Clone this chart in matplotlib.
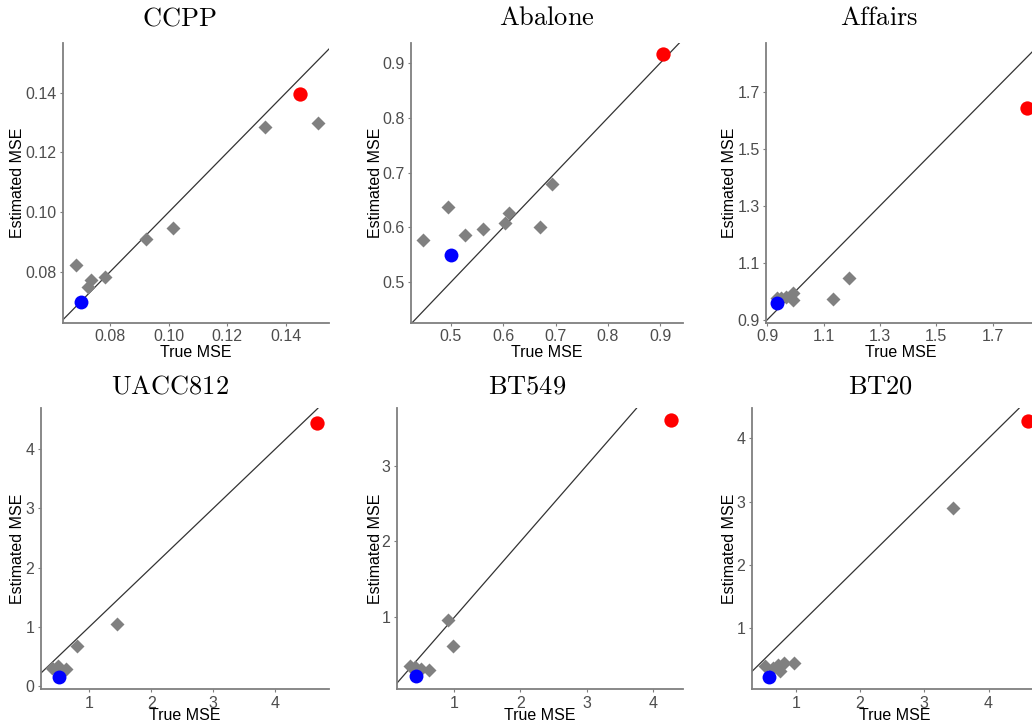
import matplotlib
matplotlib.use("Agg")
import matplotlib.pyplot as plt
from matplotlib.ticker import FormatStrFormatter

plt.rcParams["mathtext.fontset"] = "cm"
plt.rcParams["font.family"] = ["Liberation Sans", "DejaVu Sans"]

# ---------------- data ----------------
titles = ["CCPP", "Abalone", "Affairs", "UACC812", "BT549", "BT20"]

ccpp_true = [0.0684, 0.0726, 0.0737, 0.0783, 0.0923, 0.1014, 0.1327, 0.1508]
ccpp_est = [0.0824, 0.0749, 0.0774, 0.0783, 0.0910, 0.0949, 0.1286, 0.1297]
ccpp_blue = [0.0701, 0.0699]
ccpp_red = [0.1449, 0.1394]

abalone_true = [0.4467, 0.4943, 0.5273, 0.561, 0.6035, 0.612, 0.670, 0.6937]
abalone_est = [0.5776, 0.638, 0.5867, 0.597, 0.609, 0.626, 0.600, 0.679]
abalone_blue = [0.500, 0.549]
abalone_red = [0.905, 0.9158]

affairs_true = [0.935, 0.950, 0.965, 0.990, 0.990, 1.132, 1.191]
affairs_est = [0.975, 0.975, 0.980, 0.995, 0.970, 0.972, 1.046]
affairs_blue = [0.9355, 0.958]
affairs_red = [1.8207, 1.645]

uacc_true = [0.40, 0.50, 0.62, 0.55, 0.795, 1.44]
uacc_est = [0.30, 0.33, 0.28, 0.26, 0.676, 1.048]
uacc_blue = [0.515, 0.158]
uacc_red = [4.673, 4.45]

bt549_true = [0.33, 0.40, 0.50, 0.62, 0.909, 0.985]
bt549_est = [0.36, 0.34, 0.32, 0.31, 0.965, 0.626]
bt549_blue = [0.42, 0.226]
bt549_red = [4.277, 3.602]

bt20_true = [0.52, 0.65, 0.72, 0.75, 0.82, 0.98, 3.451]
bt20_est = [0.40, 0.37, 0.42, 0.32, 0.45, 0.46, 2.895]
bt20_blue = [0.585, 0.237]
bt20_red = [4.607, 4.279]

xlims = [(0.0641, 0.1546), (0.4238, 0.943), (0.895, 1.854),
         (0.214, 4.878), (0.128, 4.464), (0.315, 4.78)]
ylims = [(0.0630, 0.1566), (0.426, 0.936), (0.888, 1.8717),
         (-0.056, 4.693), (0.0505, 3.756), (0.037, 4.474)]
xticks = [[0.08, 0.10, 0.12, 0.14], [0.5, 0.6, 0.7, 0.8, 0.9],
          [0.9, 1.1, 1.3, 1.5, 1.7], [1, 2, 3, 4], [1, 2, 3, 4], [1, 2, 3, 4]]
yticks = [[0.08, 0.10, 0.12, 0.14], [0.5, 0.6, 0.7, 0.8, 0.9],
          [0.9, 1.1, 1.3, 1.5, 1.7], [0, 1, 2, 3, 4], [1, 2, 3], [1, 2, 3, 4]]
fmts = ["%.2f", "%.1f", "%.1f", "%d", "%d", "%d"]

gray_x = [ccpp_true, abalone_true, affairs_true, uacc_true, bt549_true, bt20_true]
gray_y = [ccpp_est, abalone_est, affairs_est, uacc_est, bt549_est, bt20_est]
blues = [ccpp_blue, abalone_blue, affairs_blue, uacc_blue, bt549_blue, bt20_blue]
reds = [ccpp_red, abalone_red, affairs_red, uacc_red, bt549_red, bt20_red]

# ---------------- layout (pixels) ----------------
W, H = 1032, 724
# left, right, top, bottom in pixels
boxes = [(63, 329, 43, 323), (410.7, 683, 43, 323), (766, 1036, 43, 323),
         (40.7, 329.3, 408.3, 689.3), (396.7, 683.3, 408.3, 689.3), (751.7, 1038.7, 408.3, 689.3)]
title_cx = [179, 547, 879, 170, 527, 881]
title_cy = [18, 18, 18, 386, 386, 386]
ylab_x = [18, 375, 729, 18, 375, 729]
xlab_pad = [0.5, 0.5, 0.5, -1.5, -1.5, -1.5]

fig = plt.figure(figsize=(W / 100, H / 100), dpi=100)
axis_gray = "#7f7f7f"

for i in range(6):
    l, r, t, b = boxes[i]
    ax = fig.add_axes([l / W, (H - b) / H, (r - l) / W, (b - t) / H])
    ax.set_xlim(*xlims[i])
    ax.set_ylim(*ylims[i])
    ax.axline((0, 0), slope=1, color="#333333", lw=0.9, zorder=1)
    ax.plot(gray_x[i], gray_y[i], ls="none", marker="D", ms=7.0,
            color="#808080", mec="none", zorder=2)
    ax.plot([blues[i][0]], [blues[i][1]], ls="none", marker="o", ms=10,
            color="#0000ff", mec="none", zorder=3)
    ax.plot([reds[i][0]], [reds[i][1]], ls="none", marker="o", ms=10.3,
            color="#ff0000", mec="none", zorder=3)
    ax.set_xticks(xticks[i])
    ax.set_yticks(yticks[i])
    ax.xaxis.set_major_formatter(FormatStrFormatter(fmts[i]))
    ax.yaxis.set_major_formatter(FormatStrFormatter(fmts[i]))
    for s in ["top", "right"]:
        ax.spines[s].set_visible(False)
    for s in ["left", "bottom"]:
        ax.spines[s].set_color(axis_gray)
        ax.spines[s].set_linewidth(1.3)
    ax.tick_params(axis="both", length=2.5, width=0.8, color=axis_gray,
                   labelsize=11.5, labelcolor="#4d4d4d", pad=2)
    ax.set_xlabel("True MSE", fontsize=11.5, color="black", labelpad=xlab_pad[i])
    fig.text(ylab_x[i] / W, 1 - ((t + b) / 2) / H, "Estimated MSE",
             rotation=90, ha="center", va="center", fontsize=11.5, color="black")
    fig.text(title_cx[i] / W, 1 - title_cy[i] / H, r"$\mathrm{%s}$" % titles[i],
             ha="center", va="center", fontsize=19)

fig.savefig("out.png", dpi=100, facecolor="white")
